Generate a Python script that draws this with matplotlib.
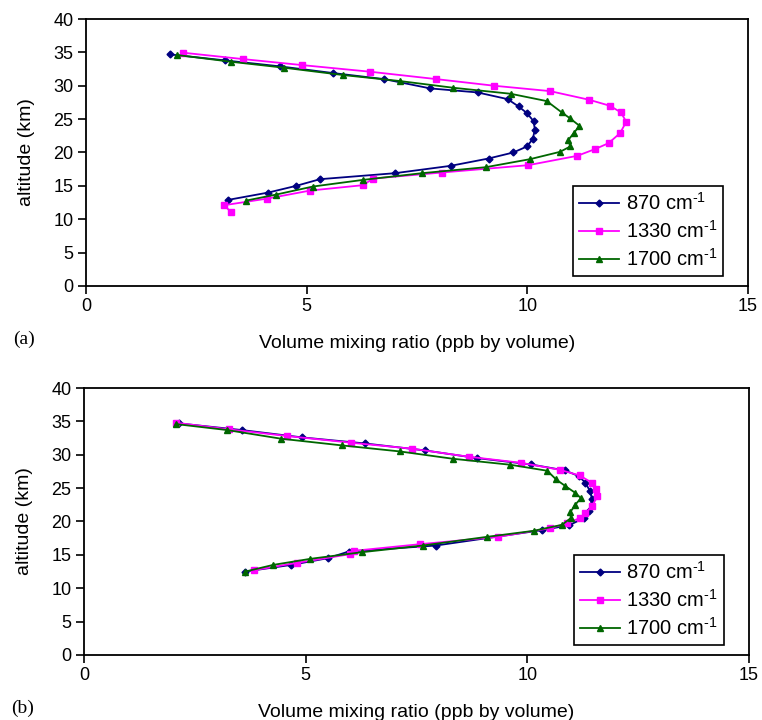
import matplotlib
matplotlib.use("Agg")
import matplotlib.pyplot as plt

plt.rcParams['font.family'] = ['Liberation Sans', 'DejaVu Sans']
plt.rcParams['mathtext.fontset'] = 'custom'
plt.rcParams['mathtext.rm'] = 'Liberation Sans'

# panel (a): retrieved profiles, x = volume mixing ratio (ppb), y = altitude (km)
a_870_x = [1.9, 3.15, 4.4, 5.6, 6.75, 7.8, 8.87, 9.55, 9.80, 9.99, 10.14, 10.17,
           10.12, 9.99, 9.68, 9.12, 8.26, 7.0, 5.3, 4.76, 4.13, 3.22]
a_870_y = [34.7, 33.8, 32.9, 31.9, 31.0, 29.6, 29.0, 28.0, 26.9, 25.9, 24.7, 23.4,
           22.0, 20.9, 20.0, 19.1, 18.0, 16.9, 16.0, 15.0, 14.0, 12.9]

a_1330_x = [2.20, 3.55, 4.89, 6.44, 7.93, 9.25, 10.51, 11.40, 11.87, 12.12, 12.24,
            12.10, 11.84, 11.53, 11.13, 10.02, 8.06, 6.51, 6.27, 5.08, 4.11, 3.13, 3.28]
a_1330_y = [34.95, 34.0, 33.1, 32.1, 31.0, 30.0, 29.2, 27.9, 27.0, 26.0, 24.6,
            22.9, 21.4, 20.5, 19.5, 18.1, 17.0, 16.1, 15.1, 14.3, 13.1, 12.1, 11.1]

a_1700_x = [2.07, 3.28, 4.49, 5.83, 7.12, 8.32, 9.62, 10.44, 10.78, 10.97, 11.18,
            11.05, 10.93, 10.97, 10.74, 10.06, 9.06, 7.61, 6.28, 5.14, 4.31, 3.63]
a_1700_y = [34.6, 33.6, 32.7, 31.6, 30.7, 29.7, 28.8, 27.7, 26.0, 25.1, 24.0,
            22.9, 21.9, 20.9, 20.1, 19.0, 17.8, 16.9, 15.9, 14.9, 13.7, 12.8]

# panel (b)
b_870_x = [2.14, 3.56, 4.92, 6.33, 7.69, 8.86, 10.08, 10.85, 11.16, 11.31, 11.42,
           11.46, 11.39, 11.27, 10.95, 10.33, 7.94, 5.97, 5.50, 4.68, 3.64]
b_870_y = [34.7, 33.7, 32.6, 31.7, 30.65, 29.5, 28.55, 27.65, 26.8, 25.8, 24.5,
           23.3, 21.5, 20.5, 19.45, 18.7, 16.4, 15.5, 14.5, 13.5, 12.5]

b_1330_x = [2.07, 3.28, 4.59, 6.03, 7.41, 8.68, 9.85, 10.73, 11.18, 11.46, 11.56,
            11.58, 11.46, 11.31, 11.18, 10.89, 10.52, 9.34, 7.58, 6.08, 6.0, 4.80, 3.83]
b_1330_y = [34.8, 33.8, 32.8, 31.8, 30.9, 29.7, 28.8, 27.75, 26.9, 25.8, 24.8,
            23.8, 22.3, 21.2, 20.5, 19.7, 19.0, 17.7, 16.6, 15.6, 15.1, 13.8, 12.7]

b_1700_x = [2.07, 3.23, 4.45, 5.82, 7.12, 8.32, 9.62, 10.45, 10.65, 10.86, 11.08,
            11.21, 11.08, 10.97, 10.98, 10.78, 10.14, 9.09, 7.64, 6.27, 5.10, 4.27, 3.64]
b_1700_y = [34.6, 33.7, 32.4, 31.4, 30.5, 29.4, 28.5, 27.6, 26.3, 25.3, 24.3,
            23.5, 22.5, 21.4, 20.5, 19.5, 18.6, 17.7, 16.4, 15.4, 14.4, 13.5, 12.5]

labels = [r'870 cm$^{\text{-1}}$', r'1330 cm$^{\text{-1}}$', r'1700 cm$^{\text{-1}}$']
colors = ['#000080', '#ff00ff', '#006600']
markers = ['D', 's', '^']
msizes = [3.5, 4, 5]

fig = plt.figure(figsize=(7.62, 7.2), dpi=100)
ax_a = fig.add_axes([0.1129, 0.6028, 0.8688, 0.3708])
ax_b = fig.add_axes([0.1102, 0.0903, 0.8727, 0.3708])

panels = [
    (ax_a, [(a_870_x, a_870_y), (a_1330_x, a_1330_y), (a_1700_x, a_1700_y)], '(a)'),
    (ax_b, [(b_870_x, b_870_y), (b_1330_x, b_1330_y), (b_1700_x, b_1700_y)], '(b)'),
]

for ax, series, tag in panels:
    for (xs, ys), lab, c, m, ms in zip(series, labels, colors, markers, msizes):
        ax.plot(xs, ys, color=c, marker=m, markersize=ms, linewidth=1.3, label=lab)
    ax.set_xlim(0, 15)
    ax.set_ylim(0, 40)
    ax.set_xticks([0, 5, 10, 15])
    ax.set_yticks(range(0, 41, 5))
    ax.tick_params(labelsize=13, length=6, width=1.2, pad=3)
    for s in ax.spines.values():
        s.set_linewidth(1.3)
        s.set_color('black')
    ax.set_xlabel('Volume mixing ratio (ppb by volume)', fontsize=14, labelpad=14)
    ax.set_ylabel('altitude (km)', fontsize=14, labelpad=13)
    leg = ax.legend(loc='lower right', bbox_to_anchor=(0.962, 0.037), fontsize=14.5,
                    fancybox=False, framealpha=1, edgecolor='black',
                    handlelength=2.0, handletextpad=0.3, labelspacing=0.3,
                    borderpad=0.3, borderaxespad=0)
    leg.get_frame().set_linewidth(1.2)
    ax.text(-0.11, -0.2, tag, transform=ax.transAxes, fontsize=14,
            family='Liberation Serif', va='center', ha='left')

fig.savefig('out.png', dpi=100)
